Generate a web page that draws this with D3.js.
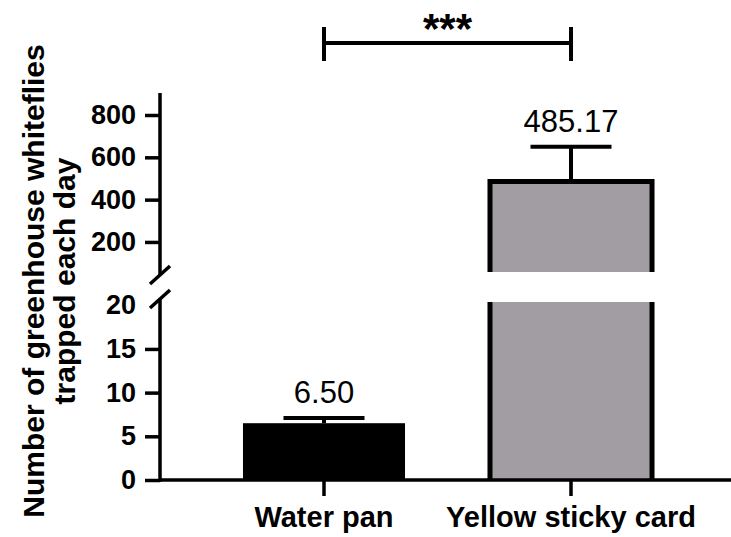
<!DOCTYPE html>
<html>
<head>
<meta charset="utf-8">
<script src="https://cdn.jsdelivr.net/npm/d3@7"></script>
<style>
  body { margin: 0; background: #fff; }
  text { font-family: "Liberation Sans", Arial, sans-serif; }
</style>
</head>
<body>
<svg width="731" height="537"></svg>
<script>
// data
const categories = ['Water pan', 'Yellow sticky card'];
const means = [6.50, 485.17];
const errors = [0.6, 165];
const barColors = ['#000000', '#a29da3'];
const lowerTicks = [0, 5, 10, 15, 20];
const upperTicks = [200, 400, 600, 800];
const yTitle = ['Number of greenhouse whiteflies', 'trapped each day'];
const sigLabel = '***';

const svg = d3.select('svg');
const axisX = 160, baseY = 480;

// x scale
const x = d3.scaleBand()
    .domain(categories)
    .range([158, 737])
    .paddingInner(0.344)
    .paddingOuter(0.344);

// broken y axis: two linear segments
const lowMax = 20.6, highMin = 58;
const yLow = d3.scaleLinear().domain([0, lowMax]).range([baseY, 300]);
const yHigh = d3.scaleLinear().domain([highMin, 904]).range([272, 93]);
const yOf = v => v <= lowMax ? yLow(v) : yHigh(v);

// bars
const bars = svg.append('g');
categories.forEach(function(c, i) {
  const x0 = x(c), x1 = x(c) + x.bandwidth();
  const v = means[i];
  if (v <= lowMax) {
    bars.append('rect')
      .attr('x', x0).attr('y', yLow(v))
      .attr('width', x.bandwidth()).attr('height', baseY - yLow(v))
      .attr('fill', barColors[i]);
  } else {
    // lower piece, cut at the break
    const cut = yLow(lowMax) + 2;
    bars.append('rect')
      .attr('x', x0).attr('y', cut)
      .attr('width', x.bandwidth()).attr('height', baseY - cut)
      .attr('fill', barColors[i]);
    bars.append('path')
      .attr('d', `M${x0},${baseY}V${cut}M${x1},${baseY}V${cut}`)
      .attr('stroke', '#000').attr('stroke-width', 5).attr('fill', 'none');
    // upper piece
    bars.append('rect')
      .attr('x', x0).attr('y', yHigh(v))
      .attr('width', x.bandwidth()).attr('height', yHigh(highMin) - yHigh(v))
      .attr('fill', barColors[i]);
    bars.append('path')
      .attr('d', `M${x0},${yHigh(highMin)}V${yHigh(v)}H${x1}V${yHigh(highMin)}`)
      .attr('stroke', '#000').attr('stroke-width', 5).attr('fill', 'none');
  }
});

// error bars (upper only) and value labels
categories.forEach(function(c, i) {
  const cx = x(c) + x.bandwidth() / 2;
  const top = yOf(means[i] + errors[i]);
  const hw = x.bandwidth() / 4;
  svg.append('path')
    .attr('d', `M${cx},${yOf(means[i])}V${top}M${cx - hw},${top}H${cx + hw}`)
    .attr('stroke', '#000').attr('stroke-width', 4).attr('fill', 'none');
  svg.append('text')
    .attr('x', cx).attr('y', top - 15)
    .attr('text-anchor', 'middle')
    .style('font-size', '31px')
    .text(means[i].toFixed(2));
});

// y axes
function styleAxis(g) {
  g.select('.domain').remove();
  g.selectAll('.tick line').attr('stroke', '#000').attr('stroke-width', 3.5);
  g.selectAll('.tick text')
    .attr('x', -24)
    .style('font-size', '27px').style('font-weight', 'bold')
    .attr('fill', '#000');
}
svg.append('g')
  .attr('transform', `translate(${axisX},0)`)
  .call(d3.axisLeft(yLow).tickValues(lowerTicks).tickSize(15).tickFormat(d3.format('d')))
  .call(styleAxis)
  .call(g => g.selectAll('.tick').filter(d => d === 20).select('line').remove());
svg.append('g')
  .attr('transform', `translate(${axisX},0)`)
  .call(d3.axisLeft(yHigh).tickValues(upperTicks).tickSize(15).tickFormat(d3.format('d')))
  .call(styleAxis);

// axis lines with break marks
const breakLow = 299, breakHigh = 275;
svg.append('path')
  .attr('d', `M${axisX},${baseY + 1.75}V${breakLow}M${axisX},${breakHigh}V${yHigh(904)}`)
  .attr('stroke', '#000').attr('stroke-width', 3.5).attr('fill', 'none');
[breakLow, breakHigh].forEach(function(by) {
  svg.append('line')
    .attr('x1', axisX - 10).attr('y1', by + 9)
    .attr('x2', axisX + 10).attr('y2', by - 9)
    .attr('stroke', '#000').attr('stroke-width', 3.5);
});

// x axis
svg.append('g')
  .attr('transform', `translate(0,${baseY})`)
  .call(d3.axisBottom(x).tickSize(16).tickSizeOuter(0))
  .call(g => g.select('.domain').attr('stroke', '#000').attr('stroke-width', 3.5)
    .attr('d', `M${axisX},0H731`))
  .call(g => g.selectAll('.tick line').attr('stroke', '#000').attr('stroke-width', 3.5))
  .call(g => g.selectAll('.tick text')
    .attr('y', 47).attr('dy', null)
    .style('font-size', '29px').style('font-weight', 'bold')
    .attr('fill', '#000'));

// significance bracket
const sx0 = x(categories[0]) + x.bandwidth() / 2;
const sx1 = x(categories[1]) + x.bandwidth() / 2;
svg.append('path')
  .attr('d', `M${sx0},27V61M${sx0},43H${sx1}M${sx1},27V61`)
  .attr('stroke', '#000').attr('stroke-width', 4).attr('fill', 'none');
svg.append('text')
  .attr('x', (sx0 + sx1) / 2).attr('y', 43)
  .attr('text-anchor', 'middle')
  .style('font-size', '42px').style('font-weight', 'bold')
  .text(sigLabel);

// y axis title
const title = svg.append('text')
  .attr('transform', 'translate(0,281) rotate(-90)')
  .attr('text-anchor', 'middle')
  .style('font-size', '30px').style('font-weight', 'bold');
yTitle.forEach(function(t, i) {
  title.append('tspan').attr('x', 0).attr('y', 44 + i * 31).text(t);
});
</script>
</body>
</html>
